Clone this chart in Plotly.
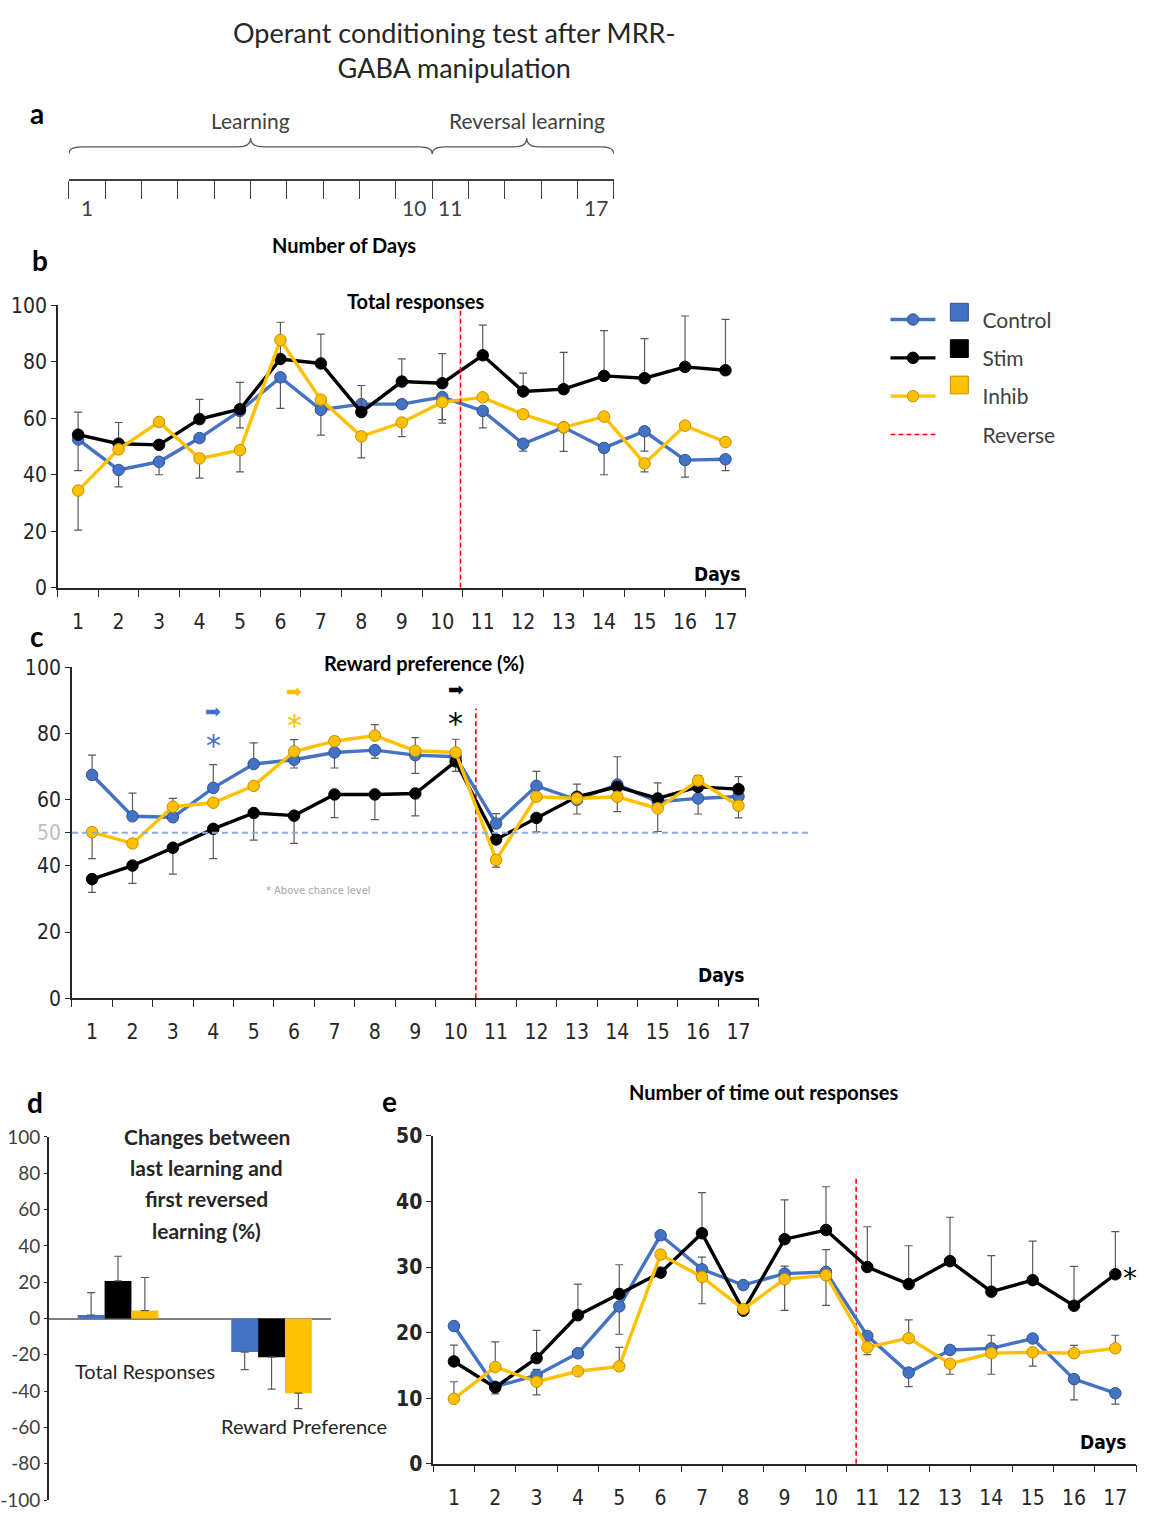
import plotly.graph_objects as go

# ---------------- DATA ----------------
days = list(range(1, 18))
day_labels = [str(d) for d in days]

# Panel b: total responses
ctrl_b = [52.5, 41.7, 44.6, 53, 62.6, 74.5, 63, 65, 65, 67.5, 62.6, 51, 56.8, 49.5, 55.4, 45.2, 45.5]
stim_b = [54.2, 51, 50.6, 59.7, 63.2, 81, 79.4, 62.2, 73, 72.4, 82.3, 69.5, 70.3, 75, 74.2, 78.2, 77]
inhib_b = [34.4, 49, 58.7, 45.8, 48.7, 87.7, 66.6, 53.6, 58.5, 65.7, 67.4, 61.4, 56.8, 60.6, 44, 57.4, 51.6]
ctrl_b_up = [0] * 17
ctrl_b_dn = [11, 6, 4.6, 0, 6, 11, 9, 0, 0, 8, 6, 2.6, 8.5, 9.5, 7, 6, 4]
stim_b_up = [8, 7.5, 0, 7, 9.5, 13, 10.4, 9.4, 8, 10.5, 10.7, 6.5, 13, 16, 14, 18, 18]
stim_b_dn = [0] * 17
inhib_b_up = [0] * 17
inhib_b_dn = [14, 0, 0, 7, 7.7, 0, 0, 7.6, 5, 7.4, 0, 0, 0, 0, 3, 0, 0]

# Panel c: reward preference (%)
ctrl_c = [67.5, 55, 54.7, 63.6, 70.8, 72.1, 74.3, 75, 73.5, 73, 52.8, 64.2, 60, 64.6, 59.4, 60.4, 61]
stim_c = [36, 40.1, 45.5, 51.2, 56, 55.2, 61.6, 61.6, 61.9, 71.6, 48, 54.5, 60.9, 63.9, 60.4, 63.9, 63.2]
inhib_c = [50.2, 46.8, 57.9, 59.1, 64.2, 74.6, 77.7, 79.4, 74.8, 74.3, 41.8, 60.9, 60.4, 60.9, 57.4, 65.8, 58.2]
ctrl_c_up = [6, 7, 0, 7, 6.4, 0, 0, 0, 0, 0, 3, 4.4, 4.7, 8.4, 0, 0, 0]
ctrl_c_dn = [0, 0, 0, 0, 0, 2.5, 4.7, 2.4, 5.5, 0, 0, 0, 0, 0, 0, 4.7, 0]
stim_c_up = [0, 0, 0, 0, 0, 0, 0, 0, 0, 0, 0, 0, 0, 0, 4.7, 0, 3.8]
stim_c_dn = [4, 5.4, 8, 9, 8.2, 8.4, 7, 7.6, 6.8, 3, 0, 4.2, 5.2, 0, 0, 0, 0]
inhib_c_up = [0, 0, 2.5, 0, 0, 3.6, 1.3, 3.3, 4, 4, 0, 0, 0, 0, 0, 1.5, 0]
inhib_c_dn = [8, 0, 0, 0, 0, 0, 0, 0, 0, 0, 2.2, 0, 0, 4.5, 7, 0, 3.7]
chance_level = 50
# significance (above chance) markers: day and group index (0 ctrl, 1 stim, 2 inhib)
sig_days = [4, 6, 10]
sig_groups = [0, 2, 1]
sig_split_y = [82.6, 88.8, 89.4]   # boundary between arrow (above) and asterisk (below)

# Panel d: changes between last learning and first reversed learning (%)
d_categories = ["Total Responses", "Reward Preference"]
ctrl_d = [1.9, -18.5]
stim_d = [20.7, -21.3]
inhib_d = [4.4, -41.1]
ctrl_d_err = [12.4, 9.6]
stim_d_err = [13.6, 17.6]
inhib_d_err = [18.2, 8.5]

# Panel e: number of time out responses
ctrl_e = [21, 11.75, 13.5, 16.85, 24, 34.85, 29.65, 27.25, 29, 29.25, 19.5, 13.9, 17.35, 17.6, 19.1, 12.9, 10.75]
stim_e = [15.6, 11.65, 16.1, 22.65, 25.9, 29.15, 35.15, 23.35, 34.25, 35.65, 30, 27.4, 30.9, 26.25, 28, 24.1, 28.9]
inhib_e = [9.9, 14.75, 12.5, 14.1, 14.85, 31.9, 28.5, 23.6, 28.15, 28.75, 17.75, 19.15, 15.25, 16.85, 17, 16.85, 17.6]
ctrl_e_up = [0, 0, 0.9, 0, 0, 0, 1.85, 0, 1.15, 3.4, 0, 0, 0, 2, 0, 0, 0]
ctrl_e_dn = [0, 0, 0, 0, 4.25, 0, 0, 0, 0, 0, 0, 2.15, 0, 0, 0, 3.15, 1.65]
stim_e_up = [2.5, 0, 4.25, 4.75, 4.45, 0, 6.2, 0, 6, 6.6, 6.15, 5.85, 6.7, 5.5, 5.95, 6, 6.5]
stim_e_dn = [0, 1, 0, 0, 0, 0, 0, 0, 0, 0, 0, 0, 0, 0, 0, 0, 0]
inhib_e_up = [2.6, 3.85, 0, 0, 2.9, 0, 0, 0, 0, 0, 0, 2.8, 0, 0, 0, 1.2, 2]
inhib_e_dn = [0, 0, 2, 0, 0, 0, 4.1, 0, 4.75, 4.6, 1.1, 0, 1.6, 3.2, 2.1, 0, 0]
e_star_value = 29.3

# reversal marker (x position, top value) per panel b, c, e
rev_x = [10.45, 10.5, 10.73]
rev_top = [100, 87.6, 43.8]

# timeline (panel a)
timeline_ticks = list(range(16))
timeline_labels = ["1", "10", "11", "17"]
timeline_label_pos = [0.5, 9.5, 10.5, 14.5]
phase_names = ["Learning", "Reversal learning"]
phase_span = [(0, 5.0, 10), (10, 12.6, 15)]

names = ["Control", "Stim", "Inhib"]

# ---------------- STYLE ----------------
W, H = 1149, 1519
BLUE, BLACK, GOLD = "#4472C4", "#000000", "#FFC000"
EDGES = ["#2F528F", "#000000", "#BF9000"]
COLORS = [BLUE, BLACK, GOLD]
ERR = "#595959"
AX = "#262626"
TXT = "#262626"
FONT = "Lato, 'Open Sans', sans-serif"
NARROW = "'Liberation Sans Narrow', 'DejaVu Sans Condensed', Lato, sans-serif"
LEG_PAD = "\u2002\u2002\u2002\u2002"


def px(x):
    return x / W


def py(y):
    return 1 - y / H


fig = go.Figure()


def add_series(xa, ya, vals, up, dn, i, show):
    fig.add_trace(go.Scatter(
        x=days, y=vals, xaxis=xa, yaxis=ya, mode="lines+markers", name=LEG_PAD + names[i],
        legendgroup=names[i], showlegend=show,
        line=dict(color=COLORS[i], width=3.4),
        marker=dict(size=11.5, color=COLORS[i], line=dict(color=EDGES[i], width=1)),
        error_y=dict(type="data", symmetric=False, array=up, arrayminus=dn,
                     color=ERR, thickness=1.2, width=4),
    ))


def add_reverse(xa, ya, k, show):
    fig.add_trace(go.Scatter(
        x=[rev_x[k], rev_x[k]], y=[0, rev_top[k]], xaxis=xa, yaxis=ya, mode="lines",
        name=LEG_PAD + "Reverse", legendgroup="Reverse", showlegend=show,
        line=dict(color="#FF0000", width=1.6, dash="5px,3px"),
    ))


# panel b
add_series("x", "y", ctrl_b, ctrl_b_up, ctrl_b_dn, 0, True)
add_series("x", "y", stim_b, stim_b_up, stim_b_dn, 1, True)
add_series("x", "y", inhib_b, inhib_b_up, inhib_b_dn, 2, True)
add_reverse("x", "y", 0, True)

# panel c
add_reverse("x2", "y2", 1, False)
add_series("x2", "y2", ctrl_c, ctrl_c_up, ctrl_c_dn, 0, False)
add_series("x2", "y2", stim_c, stim_c_up, stim_c_dn, 1, False)
add_series("x2", "y2", inhib_c, inhib_c_up, inhib_c_dn, 2, False)

# panel e
add_reverse("x4", "y4", 2, False)
add_series("x4", "y4", ctrl_e, ctrl_e_up, ctrl_e_dn, 0, False)
add_series("x4", "y4", stim_e, stim_e_up, stim_e_dn, 1, False)
add_series("x4", "y4", inhib_e, inhib_e_up, inhib_e_dn, 2, False)

# panel d bars
for i, (vals, errs) in enumerate([(ctrl_d, ctrl_d_err), (stim_d, stim_d_err), (inhib_d, inhib_d_err)]):
    plus = [e if v > 0 else 0 for v, e in zip(vals, errs)]
    minus = [e if v < 0 else 0 for v, e in zip(vals, errs)]
    fig.add_trace(go.Bar(
        x=d_categories, y=vals, xaxis="x3", yaxis="y3", name=names[i], showlegend=False,
        marker=dict(color=COLORS[i], line=dict(width=0)),
        error_y=dict(type="data", symmetric=False, array=plus, arrayminus=minus,
                     color=ERR, thickness=1.2, width=4),
    ))


# ---------------- AXES ----------------
def day_xaxis(x0, x1, y_anchor):
    return dict(
        domain=[px(x0), px(x1)], range=[0.5, 17.5], anchor=y_anchor,
        tickmode="array", tickvals=days, ticktext=day_labels, ticks="",
        ticklabelstandoff=14,
        minor=dict(tickmode="linear", tick0=0.5, dtick=1, ticks="outside", ticklen=7,
                   tickcolor=AX, tickwidth=1.3),
        showline=True, linecolor=AX, linewidth=1.5, showgrid=False, zeroline=False,
        tickfont=dict(family=NARROW, size=21, color=TXT), fixedrange=True,
    )


def val_yaxis(y0, y1, rng, tickvals, ticktext, x_anchor, bold=False):
    return dict(
        domain=[py(y1), py(y0)], range=rng, anchor=x_anchor,
        tickmode="array", tickvals=tickvals, ticktext=ticktext,
        ticks="outside", ticklen=5, tickcolor=AX, tickwidth=1.3,
        showline=True, linecolor=AX, linewidth=1.5, showgrid=False, zeroline=False,
        tickfont=dict(family=NARROW, size=21, color=TXT, weight=700 if bold else 400),
        fixedrange=True,
    )


ticks_100 = [0, 20, 40, 60, 80, 100]
c_ticks = [0, 20, 40, chance_level, 60, 80, 100]
c_ticktext = [str(t) if t != chance_level else "<span style='color:#BFBFBF'>%d</span>" % t for t in c_ticks]
ticks_50 = [0, 10, 20, 30, 40, 50]
d_ticks = list(range(-100, 101, 20))

fig.update_layout(
    xaxis=day_xaxis(56, 745, "y"),
    yaxis=val_yaxis(298, 585, [0, 100], ticks_100, [str(t) for t in ticks_100], "x"),
    xaxis2=day_xaxis(70, 758, "y2"),
    yaxis2=val_yaxis(666, 1002, [0, 100], c_ticks, c_ticktext, "x2"),
    xaxis4=day_xaxis(432, 1136, "y4"),
    yaxis4=val_yaxis(1142, 1475, [0, 50], ticks_50, [str(t) for t in ticks_50], "x4", bold=True),
    xaxis3=dict(domain=[px(47), px(330)], type="category", range=[-0.45, 1.39], anchor="y3",
                visible=False, fixedrange=True),
    yaxis3=dict(domain=[py(1512), py(1143)], range=[-100, 100], anchor="x3",
                tickmode="array", tickvals=d_ticks, ticktext=[str(t) for t in d_ticks],
                ticks="outside", ticklen=3, tickcolor=AX, showline=True, linecolor=AX, linewidth=1.5,
                showgrid=False, zeroline=True, zerolinecolor="#7F7F7F", zerolinewidth=1.6,
                tickfont=dict(family=FONT, size=19, color="#404040"), fixedrange=True),
    # timeline (panel a): two axes sharing one line, ticks down and up
    xaxis5=dict(domain=[px(67), px(613)], range=[0, 15], anchor="y5", side="bottom",
                tickmode="array", tickvals=timeline_ticks, ticks="outside", ticklen=18,
                tickcolor="#404040", tickwidth=1.3, showticklabels=False,
                showline=True, linecolor="#404040", linewidth=1.5, showgrid=False, zeroline=False,
                fixedrange=True),
    yaxis5=dict(domain=[py(170), py(150)], anchor="x5", visible=False, fixedrange=True),
    xaxis6=dict(domain=[px(67), px(613)], range=[0, 15], anchor="y6", side="top",
                tickmode="array", tickvals=timeline_ticks, ticks="outside", ticklen=8,
                tickcolor="#404040", tickwidth=1.3, showticklabels=False,
                showline=True, linecolor="#404040", linewidth=1.5,
                showgrid=False, zeroline=False, fixedrange=True),
    yaxis6=dict(domain=[py(195), py(170)], anchor="x6", visible=False, fixedrange=True),
    barmode="group", bargap=0.475, bargroupgap=0,
    width=W, height=H,
    margin=dict(l=0, r=0, t=0, b=0),
    paper_bgcolor="white", plot_bgcolor="rgba(0,0,0,0)",
    showlegend=True,
    legend=dict(x=px(885), y=py(292), xanchor="left", yanchor="top",
                font=dict(family=FONT, size=21, color="#404040"),
                itemwidth=45, tracegroupgap=8, bgcolor="rgba(0,0,0,0)"),
    font=dict(family=FONT, color=TXT),
)

# ---------------- SHAPES ----------------
shapes = []
# chance-level dashed line in panel c (extends past the axis)
shapes.append(dict(type="line", xref="paper", yref="y2", x0=px(70), x1=px(808),
                   y0=chance_level, y1=chance_level,
                   line=dict(color="#8EAADB", width=2, dash="6px,4px")))
# braces over the timeline
yb, ym, yt = py(144), py(137), py(128)
for (a, tip, b) in phase_span:
    d = 0.35
    path = (f"M {a},{yb} Q {a},{ym} {a + d},{ym} L {tip - d},{ym} Q {tip},{ym} {tip},{yt} "
            f"Q {tip},{ym} {tip + d},{ym} L {b - d},{ym} Q {b},{ym} {b},{yb}")
    shapes.append(dict(type="path", xref="x5", yref="paper", path=path,
                       line=dict(color="#595959", width=1.3)))
# legend colour squares (legend swatches for the bar series of panel d)
for c, e, y in zip(COLORS, EDGES, [305, 342, 379]):
    shapes.append(dict(type="rect", xref="paper", yref="paper",
                       x0=px(950), x1=px(968), y0=py(y + 9), y1=py(y - 9),
                       fillcolor=c, line=dict(color=e, width=1)))
fig.update_layout(shapes=shapes)

# ---------------- ANNOTATIONS ----------------
ann = []


def note(text, x, y, size, color=TXT, family=FONT, xanchor="center", yanchor="middle",
         xref="paper", yref="paper"):
    ann.append(dict(text=text, x=x, y=y, xref=xref, yref=yref, showarrow=False,
                    xanchor=xanchor, yanchor=yanchor,
                    font=dict(family=family, size=size, color=color)))


note("Operant conditioning test after MRR-<br>GABA manipulation", px(453), py(39), 27, "#262626")
for letter, x, y in [("a", 35, 103), ("b", 38, 252), ("c", 35, 634), ("d", 33, 1107), ("e", 388, 1106)]:
    note(f"<b>{letter}</b>", px(x), py(y), 28, "#000000")

# timeline texts
for name, (a, tip, b) in zip(phase_names, phase_span):
    note(name, tip, py(110), 21, "#404040", xref="x5")
for lab, pos in zip(timeline_labels, timeline_label_pos):
    note(lab, pos, py(199), 21, "#404040", xref="x5")
note("<b>Number of Days</b>", px(343), py(237), 20, "#000000")

# panel titles
note("<b>Total responses</b>", px(415), py(294), 20, "#000000")
note("<b>Reward preference (%)</b>", px(423), py(661), 20, "#000000")
note("<b>Number of time out responses</b>", px(763), py(1097), 20, "#000000")
for line, y in zip(["Changes between", "last learning and", "first reversed", "learning (%)"],
                   [1143, 1174, 1206, 1238]):
    note(f"<b>{line}</b>", px(205), py(y), 21, "#262626")

# Days labels
for x, y in [(716, 571), (720, 978), (1103, 1453)]:
    note("<b>Days</b>", px(x), py(y), 19, "#000000", family=NARROW)

# panel c significance markers: arrow sits on the boundary, asterisk hangs below it
for day, g, sy in zip(sig_days, sig_groups, sig_split_y):
    note("➡", day, sy + 0.3, 19, COLORS[g], family="DejaVu Sans", xref="x2", yref="y2",
         yanchor="bottom")
    note("*", day, sy - 0.3, 30, COLORS[g], family="DejaVu Sans", xref="x2", yref="y2",
         yanchor="top")
note("* Above chance level", 6.6, 32.5, 11, "#A6A6A6", family=NARROW, xref="x2", yref="y2")

# panel e asterisk (just right of the plot area)
note("*", px(1130), e_star_value - 1.0, 28, "#000000", family="DejaVu Sans", yref="y4")

# panel d category labels
note("Total Responses", 0.175, -29, 20, "#262626", xref="x3", yref="y3")
note("Reward Preference", 1.21, -59, 20, "#262626", xref="x3", yref="y3")

fig.update_layout(annotations=ann)

fig.write_html("out.html", config={"displayModeBar": False},
               post_script="document.body.style.margin='0';document.body.style.overflow='hidden';")
